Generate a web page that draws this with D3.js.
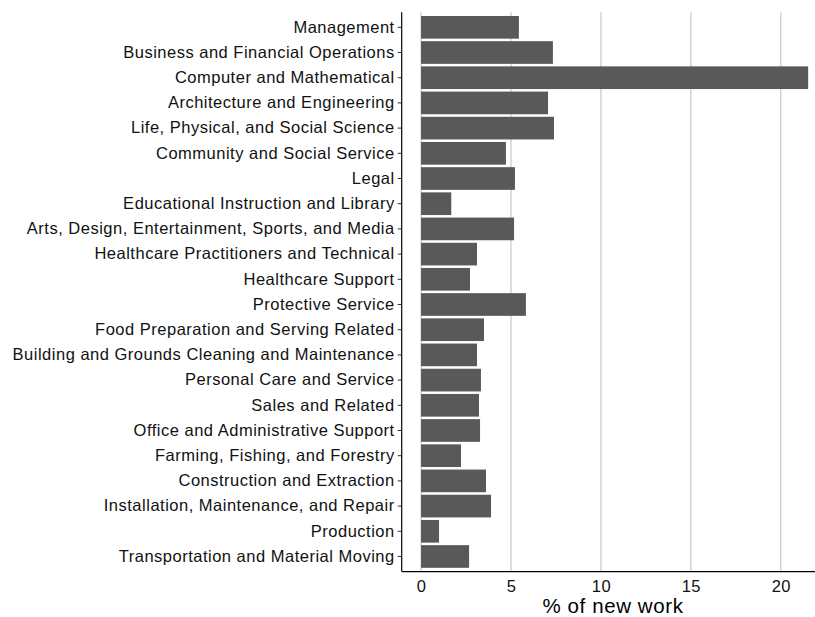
<!DOCTYPE html>
<html>
<head>
<meta charset="utf-8">
<script src="https://cdn.jsdelivr.net/npm/d3@7"></script>
<style>
  body { margin: 0; background: #fff; }
  svg { display: block; }
  text { font-family: "Liberation Sans", Arial, sans-serif; }
</style>
</head>
<body>
<svg id="chart" width="815" height="617"></svg>
<script>
const categories = [
  "Management",
  "Business and Financial Operations",
  "Computer and Mathematical",
  "Architecture and Engineering",
  "Life, Physical, and Social Science",
  "Community and Social Service",
  "Legal",
  "Educational Instruction and Library",
  "Arts, Design, Entertainment, Sports, and Media",
  "Healthcare Practitioners and Technical",
  "Healthcare Support",
  "Protective Service",
  "Food Preparation and Serving Related",
  "Building and Grounds Cleaning and Maintenance",
  "Personal Care and Service",
  "Sales and Related",
  "Office and Administrative Support",
  "Farming, Fishing, and Forestry",
  "Construction and Extraction",
  "Installation, Maintenance, and Repair",
  "Production",
  "Transportation and Material Moving"
];
const values = [5.44, 7.33, 21.52, 7.06, 7.39, 4.72, 5.22, 1.68, 5.17, 3.11, 2.72, 5.83, 3.50, 3.11, 3.33, 3.22, 3.28, 2.22, 3.61, 3.89, 1.00, 2.67];
const xTicks = [0, 5, 10, 15, 20];
const xTitle = "% of new work";

const svg = d3.select("#chart");
const pLeft = 401.7, pRight = 827.5, pTop = 12.2, pBottom = 571.6;

const maxV = d3.max(values);
const pad = maxV * 0.05;
const x = d3.scaleLinear().domain([-pad, maxV + pad]).range([pLeft, pRight]);
const y = d3.scaleBand().domain(categories).range([pTop, pBottom]).paddingInner(0.1).paddingOuter(0.15);

// gridlines
svg.append("g").selectAll("line").data(xTicks).join("line")
  .attr("x1", d => x(d)).attr("x2", d => x(d))
  .attr("y1", pTop).attr("y2", pBottom)
  .attr("stroke", "#c4c4c4").attr("stroke-width", 1.1);

// bars
svg.append("g").selectAll("rect").data(categories).join("rect")
  .attr("x", x(0))
  .attr("y", d => y(d))
  .attr("width", (d, i) => x(values[i]) - x(0))
  .attr("height", y.bandwidth())
  .attr("fill", "#595959");

// y axis
const yAxis = d3.axisLeft(y).tickSize(4).tickPadding(3);
const gy = svg.append("g").attr("transform", `translate(${pLeft},0)`).call(yAxis);
gy.select(".domain").remove();
gy.selectAll(".tick line").attr("stroke", "#333").attr("stroke-width", 1);
gy.selectAll(".tick text").attr("font-size", "16.5px").attr("letter-spacing", "0.5px")
  .attr("fill", "#111")
  .attr("font-family", "Liberation Sans, Arial, sans-serif");
svg.append("line").attr("x1", pLeft).attr("x2", pLeft).attr("y1", pTop).attr("y2", pBottom)
  .attr("stroke", "#000").attr("stroke-width", 1.2);

// x axis
const xAxis = d3.axisBottom(x).tickValues(xTicks).tickSize(0).tickPadding(8.3);
const gx = svg.append("g").attr("transform", `translate(0,${pBottom})`).call(xAxis);
gx.select(".domain").remove();
gx.selectAll(".tick text").attr("font-size", "16.5px").attr("letter-spacing", "0.5px")
  .attr("fill", "#111")
  .attr("font-family", "Liberation Sans, Arial, sans-serif");
svg.append("line").attr("x1", pLeft).attr("x2", 815).attr("y1", pBottom).attr("y2", pBottom)
  .attr("stroke", "#000").attr("stroke-width", 1.2);

// x title
svg.append("text")
  .attr("x", 613)
  .attr("y", 613)
  .attr("text-anchor", "middle")
  .attr("font-size", "20.5px")
  .attr("letter-spacing", "0.6px")
  .attr("fill", "#000")
  .text(xTitle);
</script>
</body>
</html>
